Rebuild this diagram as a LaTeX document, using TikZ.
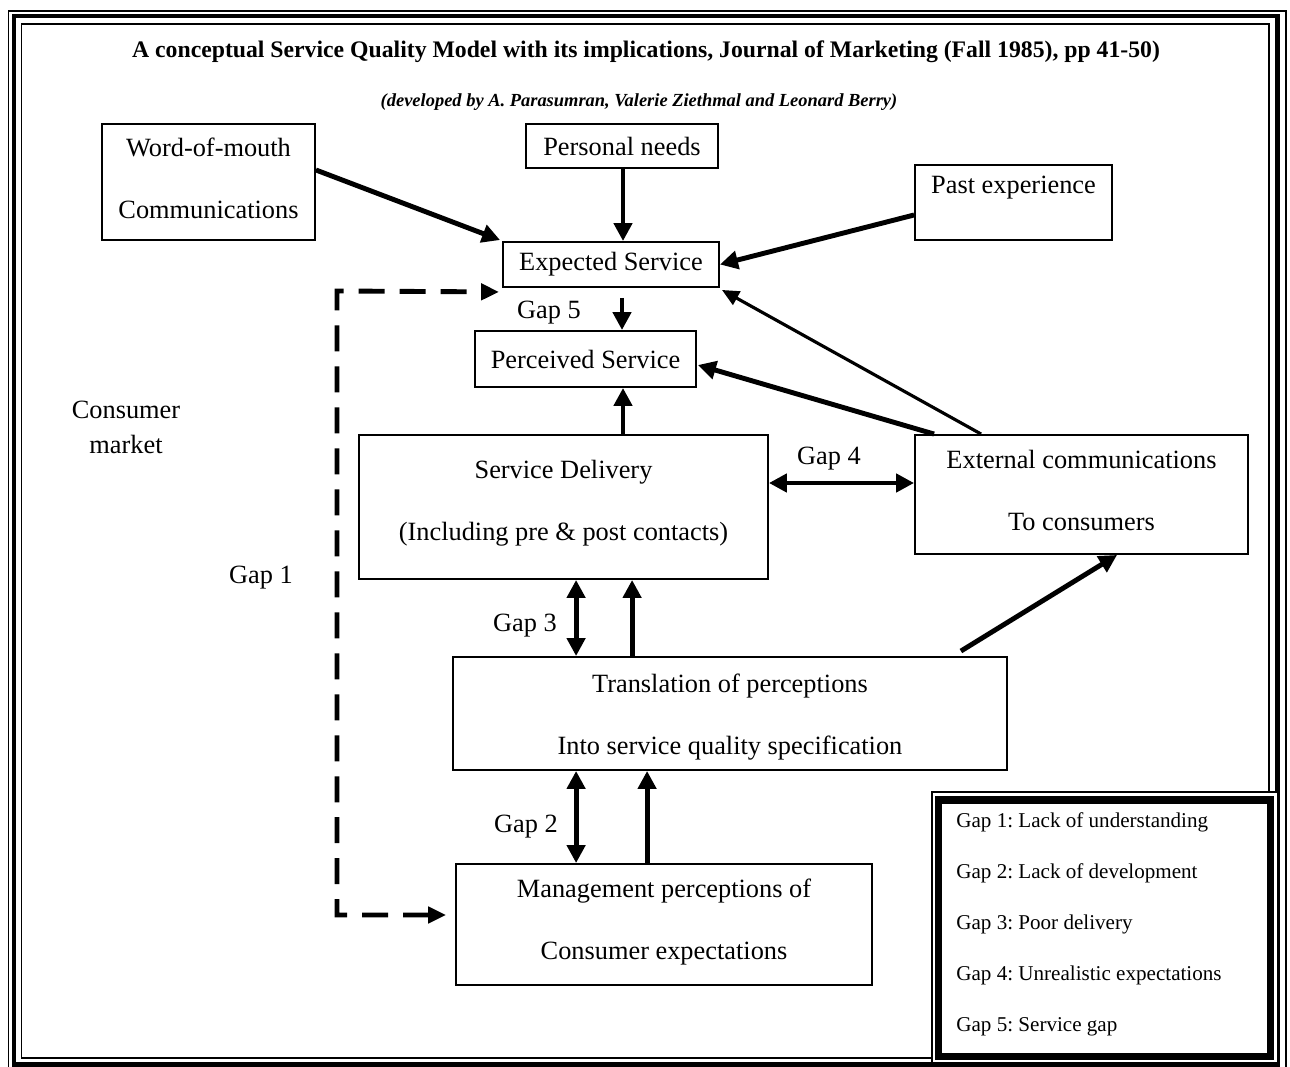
\documentclass[tikz,border=0pt]{standalone}
\usepackage{fontspec}
\setmainfont{Liberation Serif}
\usetikzlibrary{arrows.meta,calc}
\frenchspacing
\tikzset{
  box/.style={draw, line width=1.1pt, inner sep=0pt, align=center, font=\fontsize{15}{18}\selectfont},
  lbl/.style={inner sep=0pt, align=center, font=\fontsize{15}{18}\selectfont},
  arr/.style={line width=2.8pt, -{Triangle[length=0.36cm,width=0.36cm]}},
  darr/.style={line width=2.8pt, {Triangle[length=0.36cm,width=0.36cm]}-{Triangle[length=0.36cm,width=0.36cm]}},
  thinarr/.style={line width=1.8pt, -{Triangle[length=0.34cm,width=0.3cm]}},
  dasharr/.style={line width=2.8pt, dash pattern=on 0.52cm off 0.3cm,
    {Triangle[length=0.36cm,width=0.32cm]}-{Triangle[length=0.36cm,width=0.32cm]}},
}
\begin{document}
\begin{tikzpicture}[x=0.02cm, y=-0.02cm]
\useasboundingbox (0,0) rectangle (1290,1067);
% page frame
\draw[line width=0.6pt] (8.5,11) rectangle (1286,1075);
\draw[line width=2.6pt] (14,16) rectangle (1277.5,1064.5);
\draw[line width=0.9pt] (21.5,24) rectangle (1269,1058);

% titles
\node[inner sep=0pt, font=\fontsize{13.5}{16}\selectfont\bfseries] (title) at (646,52)
  {A conceptual Service Quality Model with its implications, Journal of Marketing (Fall 1985), pp 41-50)};
\node[inner sep=0pt, font=\fontsize{10.5}{13}\selectfont\bfseries\itshape] (subtitle) at (639,102)
  {(developed by A. Parasumran, Valerie Ziethmal and Leonard Berry)};

% boxes
\node[box, minimum width=4.26cm, minimum height=2.32cm] (wom) at (208.5,182) {};
\node[lbl] (wom-t) at (208.5,178) {Word-of-mouth\\[17.15pt]Communications};
\node[box, minimum width=3.84cm, minimum height=0.88cm] (pn) at (622,146) {Personal needs};
\node[box, minimum width=3.94cm, minimum height=1.5cm] (past) at (1013.5,202.5) {};
\node[lbl] (past-t) at (1013.5,188) {Past experience};
\node[box, minimum width=4.32cm, minimum height=0.9cm] (exp) at (611,264.5) {Expected Service};
\node[box, minimum width=4.42cm, minimum height=1.12cm] (perc) at (585.5,359) {Perceived Service};
\node[box, minimum width=8.18cm, minimum height=2.88cm] (sd) at (563.5,507) {};
\node[lbl] (sd-t) at (563.5,503) {Service Delivery\\[17.15pt](Including pre \& post contacts)};
\node[box, minimum width=6.66cm, minimum height=2.38cm] (ext) at (1081.5,494.5) {};
\node[lbl] (ext-t) at (1081.5,490.5) {External communications\\[17.15pt]To consumers};
\node[box, minimum width=11.08cm, minimum height=2.26cm] (trans) at (730,713.5) {};
\node[lbl] (trans-t) at (730,717) {Translation of perceptions\\[17.15pt]Into service quality specification};
\node[box, minimum width=8.32cm, minimum height=2.42cm] (mgmt) at (664,924.5) {};
\node[lbl] (mgmt-t) at (664,922) {Management perceptions of\\[17.15pt]Consumer expectations};

% labels
\node[lbl, font=\fontsize{15}{20}\selectfont] (cm) at (126,427.5) {Consumer\\market};
\node[lbl] (g1) at (261,578) {Gap 1};
\node[lbl] (g5) at (549,313) {Gap 5};
\node[lbl] (g4) at (829,459) {Gap 4};
\node[lbl] (g3) at (525,626) {Gap 3};
\node[lbl] (g2) at (526,827) {Gap 2};

% helper points
\coordinate (pA) at ($(pn.south)+(1,0)$);
\coordinate (pB) at ($(exp.south)+(11,10)$);
\coordinate (pC) at ($(sd.north)+(59.5,0)$);
\coordinate (pD) at ($(sd.east)+(0,-24)$);
\coordinate (pE) at ($(sd.south west)+(218,0)$);
\coordinate (pF) at ($(trans.north west)+(180,0)$);
\coordinate (pG) at ($(trans.south west)+(124,0)$);
\coordinate (pH) at ($(mgmt.north west)+(192,0)$);

% connectors
\draw[arr] ($(wom.east)+(0,-12)$) -- ($(exp.north west)+(-2,-1)$);
\draw[arr] (pA) -- (pA |- exp.north);
\draw[arr] ($(past.west)+(0,12.5)$) -- (exp.east);
\draw[arr] (pB) -- (pB |- perc.north);
\draw[arr] (pC) -- (pC |- perc.south);
\draw[arr] ($(ext.north west)+(20,0)$) -- ($(perc.east)+(1,6)$);
\draw[thinarr] ($(ext.north west)+(67,0)$) -- ($(exp.south east)+(2,2)$);
\draw[darr] (pD) -- (pD -| ext.west);
\draw[arr] ($(trans.north east)+(-47,-5)$) -- ($(ext.south west)+(203,0)$);
\draw[darr] (pE) -- (pE |- trans.north);
\draw[arr] (pF) -- (pF |- sd.south);
\draw[darr] (pG) -- (pG |- mgmt.north);
\draw[arr] (pH) -- (pH |- trans.south);

% dashed Gap 1 connector
\coordinate (ctop) at (337,291);
\coordinate (cbot) at (337,915);
\draw[dasharr] ($(mgmt.west)+(-9,-9.5)$) -- (cbot) -- (ctop) -- ($(exp.south west)+(-3,4)$);

% legend
\draw[line width=0.9pt, fill=white] (932,792) rectangle (1278,1063);
\draw[line width=4pt] (938.5,800) rectangle (1270,1056.5);
\node[inner sep=0pt, anchor=west, align=left, font=\fontsize{12}{14.5}\selectfont] (legend) at (956,924.5)
  {Gap 1: Lack of understanding\\[14.5pt]Gap 2: Lack of development\\[14.5pt]Gap 3: Poor delivery\\[14.5pt]Gap 4: Unrealistic expectations\\[14.5pt]Gap 5: Service gap};
\end{tikzpicture}
\end{document}
